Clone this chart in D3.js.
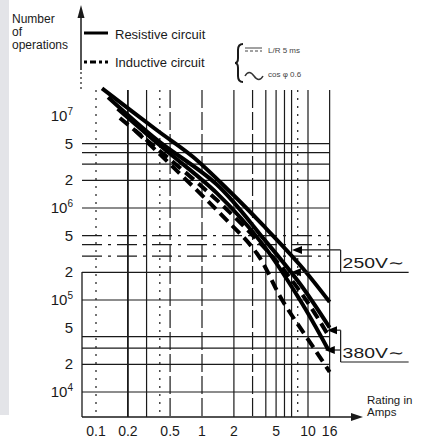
<!DOCTYPE html>
<html>
<head>
<meta charset="utf-8">
<script src="https://cdn.jsdelivr.net/npm/d3@7"></script>
<style>
  body { margin: 0; background: #fff; }
  svg { display: block; font-family: "Liberation Sans", Arial, sans-serif; }
</style>
</head>
<body>
<div id="chart"></div>
<script>
// rating in amps (x), number of operations (y)
const xTicks = [0.1, 0.2, 0.5, 1, 2, 5, 10, 16];
const xTickLabels = ["0.1", "0.2", "0.5", "1", "2", "5", "10", "16"];
const yTicks = [1e4, 2e4, 5e4, 1e5, 2e5, 5e5, 1e6, 2e6, 5e6, 1e7];
const yTickLabels = ["10^4", "2", "5", "10^5", "2", "5", "10^6", "2", "5", "10^7"];

const xGrid = [0.1, 0.2, 0.3, 0.4, 0.5, 1, 2, 3, 4, 5, 6, 7, 8, 10, 16];
const yGrid = [1e4, 2e4, 3e4, 4e4, 1e5, 2e5, 3e5, 4e5, 5e5, 1e6, 2e6, 3e6, 4e6, 5e6];

// resistive circuit (solid)
const resistiveA = [[0.114, 2.0e7], [0.376, 7.0e6], [0.82, 3.6e6], [1.84, 1.5e6], [3.76, 6.5e5], [8.4, 2.4e5], [16, 9.5e4]];
const resistiveB = [[0.13, 1.6e7], [0.376, 5.5e6], [1.38, 1.8e6], [3.9, 4.5e5], [8.4, 1.5e5], [16, 5.0e4]];
const resistiveC = [[0.16, 1.2e7], [0.4, 4.8e6], [1.38, 1.45e6], [3.76, 4.0e5], [8.4, 1.0e5], [15.5, 2.9e4]];
// inductive circuit (dashed)
const inductiveA = [[0.168, 9.5e6], [1.38, 1.22e6], [5.1, 2.6e5], [10, 9.3e4], [16, 3.9e4]];
const inductiveB = [[0.233, 7.0e6], [1.47, 8.8e5], [3.3, 3.2e5], [5.7, 1.0e5], [11.6, 2.9e4], [16, 1.65e4]];

// voltage pointers
const pointers250 = [[7.06, 3.5e5], [6.9, 2.0e5]];
const pointers380 = [[15.1, 4.7e4], [14.4, 2.86e4]];

const W = 422, H = 441;
const svg = d3.select("#chart").append("svg").attr("width", W).attr("height", H);

const x = d3.scaleLog().domain([0.1, 10]).range([96, 308]);
const y = d3.scaleLog().domain([1e4, 1e7]).range([392, 116]);
const plotL = 82, plotR = x(16), plotT = 90, plotB = 417;
const ink = "#1a1a1a";

// scan margin strip
svg.append("rect").attr("x", 0).attr("y", 0).attr("width", 9).attr("height", 415).attr("fill", "#e3e4e8");

// grid
const dottedX = new Set([0.1, 0.4, 8]);
const dashedX = new Set([0.5, 1, 3]);
svg.append("g").selectAll("line").data(xGrid).enter().append("line")
  .attr("x1", d => x(d)).attr("x2", d => x(d))
  .attr("y1", plotT).attr("y2", plotB)
  .attr("stroke", ink)
  .attr("stroke-width", d => d === 0.2 ? 1.8 : 1.2)
  .attr("stroke-dasharray", d => dottedX.has(d) ? "2,6" : dashedX.has(d) ? "18,4" : null);

const lightY = new Set([3e5, 4e5, 5e5]);
svg.append("g").selectAll("line").data(yGrid).enter().append("line")
  .attr("x1", plotL).attr("x2", plotR)
  .attr("y1", d => y(d)).attr("y2", d => y(d))
  .attr("stroke", ink).attr("stroke-width", 1.2)
  .attr("stroke-dasharray", d => lightY.has(d) ? "20,6,3,6" : null);

// left axis (lower part) + y arrow
svg.append("line").attr("x1", plotL).attr("x2", plotL).attr("y1", 272).attr("y2", plotB)
  .attr("stroke", ink).attr("stroke-width", 1.3);
svg.append("line").attr("x1", 81).attr("x2", 81).attr("y1", 14).attr("y2", 70)
  .attr("stroke", ink).attr("stroke-width", 1.5);
svg.append("line").attr("x1", 81).attr("x2", 81).attr("y1", 72).attr("y2", 92)
  .attr("stroke", ink).attr("stroke-width", 1.2).attr("stroke-dasharray", "2,3");
svg.append("path").attr("d", "M81,5 L77.5,18 L84.5,18 Z").attr("fill", ink);

// x axis + arrow
svg.append("line").attr("x1", plotL).attr("x2", 356).attr("y1", plotB).attr("y2", plotB)
  .attr("stroke", ink).attr("stroke-width", 1.4);
svg.append("path").attr("d", `M363,${plotB} L351,${plotB - 4} L351,${plotB + 4} Z`).attr("fill", ink);

// tick labels
svg.append("g").selectAll("text").data(xTicks).enter().append("text")
  .attr("x", d => x(d)).attr("y", 436)
  .attr("text-anchor", "middle").attr("font-size", 14).attr("fill", ink)
  .text((d, i) => xTickLabels[i]);

const yl = svg.append("g").selectAll("text").data(yTicks).enter().append("text")
  .attr("x", 73).attr("y", d => y(d) + 5)
  .attr("text-anchor", "end").attr("font-size", 15).attr("fill", ink);
yl.each(function(d, i) {
  const s = yTickLabels[i];
  const t = d3.select(this);
  if (s.startsWith("10^")) {
    t.append("tspan").text("10");
    t.append("tspan").attr("dy", -6).attr("font-size", 10).text(s.slice(3));
  } else {
    t.text(s);
  }
});

// curves
const line = d3.line().x(d => x(d[0])).y(d => y(d[1])).curve(d3.curveCatmullRom);
const curves = [
  { d: resistiveA, dash: null },
  { d: resistiveB, dash: null },
  { d: resistiveC, dash: null },
  { d: inductiveA, dash: "11,6" },
  { d: inductiveB, dash: "11,6" }
];
svg.append("g").selectAll("path").data(curves).enter().append("path")
  .attr("d", c => line(c.d))
  .attr("fill", "none").attr("stroke", "#000").attr("stroke-width", 4)
  .attr("stroke-dasharray", c => c.dash);

// voltage brackets
const bx = plotR + 11;
function bracket(pts, label, underlineY, baseY) {
  const g = svg.append("g");
  const ys = pts.map(p => y(p[1]));
  pts.forEach(p => {
    const tx = x(p[0]), ty = y(p[1]);
    g.append("line").attr("x1", tx + 6).attr("x2", bx).attr("y1", ty).attr("y2", ty)
      .attr("stroke", ink).attr("stroke-width", 1.2);
    g.append("path").attr("d", `M${tx},${ty} L${tx + 10},${ty - 4} L${tx + 10},${ty + 4} Z`).attr("fill", "#000");
  });
  g.append("line").attr("x1", bx).attr("x2", bx).attr("y1", ys[0]).attr("y2", underlineY)
    .attr("stroke", ink).attr("stroke-width", 1.2);
  g.append("line").attr("x1", bx).attr("x2", bx + 68).attr("y1", underlineY).attr("y2", underlineY)
    .attr("stroke", ink).attr("stroke-width", 1.2);
  g.append("text").attr("x", bx + 2).attr("y", baseY).attr("font-size", 15)
    .attr("textLength", 62).attr("lengthAdjust", "spacingAndGlyphs").attr("fill", ink)
    .text(label);
}
bracket(pointers250, "250V∼", y(pointers250[1][1]), y(pointers250[1][1]) - 4);
bracket(pointers380, "380V∼", 362, 358);

// axis titles
const yt = svg.append("text").attr("font-size", 12).attr("fill", ink);
[["Number", 23], ["of", 36], ["operations", 49]].forEach(r => {
  yt.append("tspan").attr("x", 12).attr("y", r[1]).text(r[0]);
});
svg.append("text").attr("x", 367).attr("y", 404).attr("font-size", 11.5).attr("fill", ink).text("Rating in");
svg.append("text").attr("x", 367).attr("y", 416).attr("font-size", 11.5).attr("fill", ink).text("Amps");

// legend
svg.append("line").attr("x1", 84).attr("x2", 108).attr("y1", 33).attr("y2", 33)
  .attr("stroke", "#000").attr("stroke-width", 3);
svg.append("text").attr("x", 115).attr("y", 39).attr("font-size", 13).attr("fill", ink).text("Resistive circuit");
svg.append("line").attr("x1", 84).attr("x2", 108).attr("y1", 62).attr("y2", 62)
  .attr("stroke", "#000").attr("stroke-width", 3).attr("stroke-dasharray", "3,3,6,3");
svg.append("text").attr("x", 115).attr("y", 67).attr("font-size", 13).attr("fill", ink).text("Inductive circuit");

// supply type key
svg.append("path")
  .attr("d", "M243,44 Q238,44 238,50 L238,58 Q238,63 235,63 Q238,63 238,68 L238,76 Q238,82 243,82")
  .attr("fill", "none").attr("stroke", ink).attr("stroke-width", 2);
svg.append("line").attr("x1", 245).attr("x2", 262).attr("y1", 48).attr("y2", 48).attr("stroke", "#444").attr("stroke-width", 1);
svg.append("line").attr("x1", 245).attr("x2", 262).attr("y1", 51).attr("y2", 51).attr("stroke", "#444").attr("stroke-width", 1).attr("stroke-dasharray", "3,2");
svg.append("text").attr("x", 268).attr("y", 53).attr("font-size", 8).attr("fill", "#444").text("L/R   5 ms");
svg.append("path").attr("d", "M245,76 q4,-7 9,0 t9,0").attr("fill", "none").attr("stroke", "#333").attr("stroke-width", 1.5);
svg.append("text").attr("x", 268).attr("y", 77).attr("font-size", 8).attr("fill", "#444").text("cos φ   0.6");
</script>
</body>
</html>
